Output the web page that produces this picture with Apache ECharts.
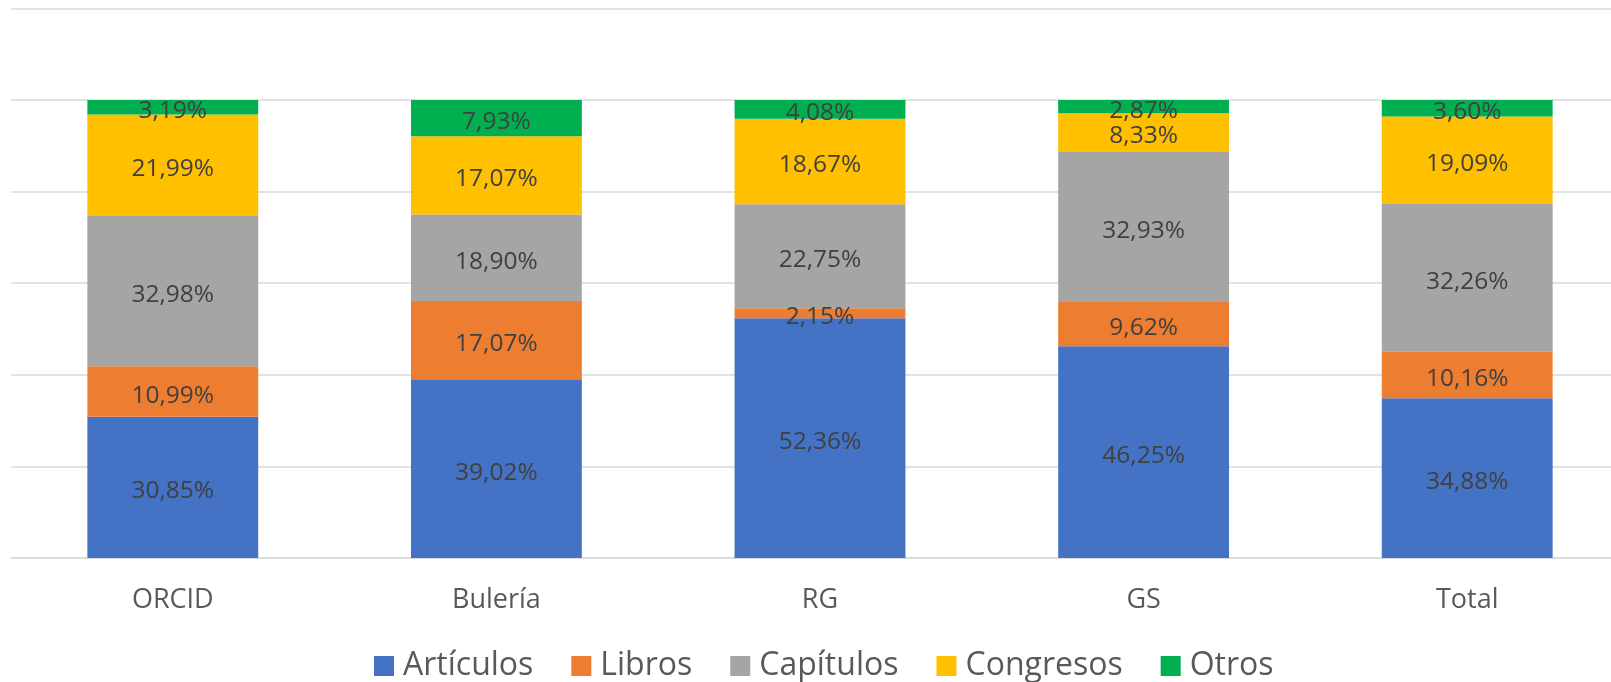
<!DOCTYPE html>
<html><head><meta charset="utf-8">
<script src="https://cdn.jsdelivr.net/npm/echarts@6/dist/echarts.min.js"></script>
<style>html,body{margin:0;padding:0;background:#fff;overflow:hidden;width:1611px;height:682px}#c{width:1629px;height:682px}</style>
</head><body><div id="c"></div>
<script>
const categories = ['ORCID', 'Bulería', 'RG', 'GS', 'Total'];
const articulos = [30.85, 39.02, 52.36, 46.25, 34.88];
const libros = [10.99, 17.07, 2.15, 9.62, 10.16];
const capitulos = [32.98, 18.90, 22.75, 32.93, 32.26];
const congresos = [21.99, 17.07, 18.67, 8.33, 19.09];
const otros = [3.19, 7.93, 4.08, 2.87, 3.60];
const yTicks = [0, 20, 40, 60, 80, 100, 120];

const seriesDefs = [
  ['Artículos', articulos, '#4472C4'],
  ['Libros', libros, '#ED7D31'],
  ['Capítulos', capitulos, '#A5A5A5'],
  ['Congresos', congresos, '#FFC000'],
  ['Otros', otros, '#00B050']
];
const font = '"Open Sans", sans-serif';
const chart = echarts.init(document.getElementById('c'), null, {renderer: 'canvas'});
chart.setOption({
  animation: false,
  grid: {left: 11, right: 0, top: 8.4, bottom: 124, containLabel: false},
  legend: {
    bottom: -5, left: 369, itemWidth: 20, itemHeight: 20, itemGap: 38,
    icon: 'rect',
    textStyle: {fontFamily: font, fontSize: 32, color: '#595959', padding: [0, 0, 0, 4]},
    data: seriesDefs.map(s => s[0])
  },
  xAxis: {
    type: 'category', data: categories,
    axisLine: {lineStyle: {color: '#D9D9D9', width: 1.5}},
    axisTick: {show: false},
    axisLabel: {fontFamily: font, fontSize: 27, color: '#595959', margin: 29}
  },
  yAxis: {
    type: 'value', min: yTicks[0], max: yTicks[yTicks.length - 1], interval: 20,
    axisLabel: {show: false}, axisLine: {show: false}, axisTick: {show: false},
    splitLine: {lineStyle: {color: '#D9D9D9', width: 1.5}}
  },
  series: seriesDefs.map(([name, data, color]) => ({
    name, type: 'bar', stack: 'total', data, barWidth: '52.8%',
    itemStyle: {color},
    label: {
      show: true, position: 'inside', offset: [0, 4], fontFamily: font, fontSize: 24.5, color: '#404040',
      formatter: p => p.value.toFixed(2).replace('.', ',') + '%'
    }
  }))
});
</script></body></html>
